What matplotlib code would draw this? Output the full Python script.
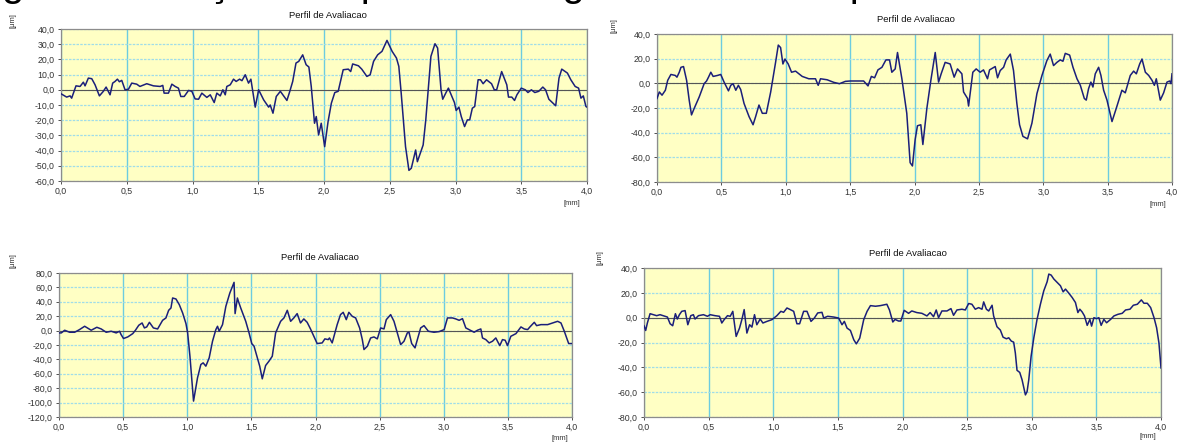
import matplotlib
matplotlib.use("Agg")
import matplotlib.pyplot as plt
from matplotlib.ticker import FuncFormatter, MultipleLocator

plt.rcParams['font.family'] = ['Liberation Sans', 'DejaVu Sans']

# ------------------------------------------------------------
# data
# ------------------------------------------------------------
x1 = [0.0, 0.043, 0.069, 0.081, 0.114, 0.145, 0.17, 0.183, 0.208, 0.234, 0.259, 0.292, 0.322, 0.343,
      0.373, 0.393, 0.411, 0.429, 0.444, 0.462, 0.487, 0.513, 0.538, 0.576, 0.60, 0.652, 0.703, 0.754,
      0.774, 0.784, 0.817, 0.843, 0.868, 0.893, 0.911, 0.937, 0.97, 0.995, 1.02, 1.046, 1.071, 1.109,
      1.135, 1.165, 1.185, 1.211, 1.231, 1.249, 1.261, 1.287, 1.312, 1.332, 1.358, 1.376, 1.401, 1.426,
      1.444, 1.477, 1.503, 1.541, 1.579, 1.591, 1.612, 1.637, 1.668, 1.718, 1.74, 1.762, 1.787, 1.808,
      1.838, 1.864, 1.885, 1.903, 1.928, 1.941, 1.959, 1.979, 2.005, 2.031, 2.056, 2.082, 2.108, 2.146,
      2.185, 2.203, 2.218, 2.262, 2.287, 2.326, 2.351, 2.377, 2.408, 2.441, 2.479, 2.518, 2.551, 2.569,
      2.587, 2.62, 2.646, 2.664, 2.697, 2.71, 2.754, 2.774, 2.813, 2.844, 2.864, 2.89, 2.903, 2.928,
      2.946, 2.967, 2.992, 3.005, 3.026, 3.044, 3.069, 3.09, 3.108, 3.128, 3.146, 3.172, 3.19, 3.21,
      3.236, 3.274, 3.295, 3.313, 3.351, 3.39, 3.403, 3.428, 3.449, 3.467, 3.5, 3.531, 3.551, 3.577,
      3.603, 3.633, 3.664, 3.685, 3.71, 3.762, 3.787, 3.808, 3.851, 3.877, 3.91, 3.936, 3.954, 3.972,
      3.992, 4.0]
y1 = [-2.6, -4.8, -4.0, -5.5, 2.6, 2.2, 5.0, 2.6, 7.7, 7.3, 3.3, -4.0, -1.0, 1.8,
      -3.3, 4.4, 5.5, 7.0, 5.3, 6.2, 0.0, 0.4, 4.4, 3.7, 2.2, 4.0, 2.6, 2.2,
      2.9, -2.2, -2.2, 3.7, 2.2, 1.1, -4.4, -4.4, -0.4, -1.0, -6.0, -6.2, -2.2, -5.0,
      -3.3, -8.4, -2.2, -4.0, 0.0, -3.3, 2.2, 3.3, 7.0, 5.5, 7.0, 6.0, 9.9, 4.4,
      7.0, -11.4, 0.0, -6.6, -11.4, -10.0, -15.4, -4.4, -1.0, -7.0, -1.0, 5.5, 17.6, 18.7,
      23.0, 16.5, 15.0, 2.2, -22.0, -17.6, -29.7, -22.0, -37.4, -20.9, -8.8, -1.8, -1.0, 13.2,
      13.6, 12.0, 17.0, 15.8, 13.6, 8.8, 9.9, 18.7, 23.0, 25.3, 32.5, 25.3, 20.9, 15.4,
      -2.2, -37.4, -53.0, -51.6, -39.6, -47.3, -36.3, -19.8, 22.0, 30.3, 27.5, 0.0, -6.2, -1.8,
      1.1, -3.3, -8.4, -13.6, -11.4, -17.6, -24.2, -19.8, -19.8, -12.1, -11.0, 6.6, 6.6, 4.0,
      6.6, 4.0, 0.0, 0.0, 12.0, 3.3, -4.8, -4.8, -7.0, -3.3, 1.1, 0.0, -1.8, 0.0,
      -1.8, -1.0, 1.8, 0.0, -6.2, -10.5, 7.7, 13.6, 11.0, 6.6, 2.2, 1.1, -5.5, -4.0,
      -11.0, -11.4]

x2 = [0.0, 0.018, 0.039, 0.065, 0.083, 0.108, 0.142, 0.155, 0.173, 0.186, 0.206, 0.23, 0.25, 0.268,
      0.289, 0.328, 0.366, 0.385, 0.40, 0.418, 0.436, 0.47, 0.495, 0.521, 0.555, 0.573, 0.591, 0.612,
      0.632, 0.65, 0.676, 0.715, 0.746, 0.766, 0.792, 0.818, 0.849, 0.883, 0.921, 0.942, 0.96, 0.978,
      0.994, 1.019, 1.045, 1.076, 1.128, 1.179, 1.231, 1.252, 1.27, 1.321, 1.373, 1.417, 1.463, 1.502,
      1.553, 1.605, 1.639, 1.665, 1.69, 1.716, 1.747, 1.778, 1.806, 1.824, 1.85, 1.868, 1.902, 1.94,
      1.966, 1.984, 2.005, 2.023, 2.049, 2.065, 2.096, 2.127, 2.161, 2.187, 2.207, 2.238, 2.277, 2.308,
      2.334, 2.368, 2.381, 2.412, 2.42, 2.453, 2.479, 2.51, 2.536, 2.567, 2.583, 2.627, 2.645, 2.666,
      2.692, 2.712, 2.744, 2.769, 2.795, 2.816, 2.842, 2.878, 2.912, 2.951, 2.99, 3.028, 3.054, 3.08,
      3.106, 3.132, 3.153, 3.171, 3.205, 3.231, 3.262, 3.288, 3.319, 3.334, 3.352, 3.37, 3.386, 3.404,
      3.43, 3.448, 3.469, 3.495, 3.534, 3.567, 3.611, 3.637, 3.676, 3.702, 3.723, 3.749, 3.767, 3.793,
      3.819, 3.845, 3.863, 3.878, 3.909, 3.935, 3.961, 3.982, 3.992, 4.0]
y2 = [-12.3, -7.0, -9.6, -5.6, 2.4, 7.2, 6.4, 5.0, 9.0, 13.0, 13.6, 2.4, -13.6, -25.6,
      -20.3, -11.0, -0.3, 1.9, 5.0, 9.0, 5.6, 6.4, 7.2, 1.0, -6.1, -1.6, -0.3, -5.6,
      -1.6, -5.0, -16.3, -27.0, -33.6, -27.0, -17.6, -24.3, -24.3, -7.0, 17.0, 31.0, 29.0, 15.7,
      19.7, 15.7, 9.0, 9.9, 5.6, 3.7, 3.7, -1.6, 3.7, 2.9, 0.8, -0.3, 1.6, 1.9,
      1.9, 1.9, -2.1, 5.6, 4.5, 10.9, 13.0, 19.0, 19.0, 9.0, 11.7, 25.0, 3.7, -24.3,
      -64.3, -67.0, -45.6, -34.4, -33.6, -49.6, -20.3, 2.4, 25.0, 1.0, 7.7, 17.0, 15.7, 5.0,
      11.7, 7.7, -7.0, -12.3, -18.4, 9.0, 11.7, 9.0, 10.9, 3.7, 10.9, 13.6, 4.5, 10.4,
      13.0, 19.0, 23.7, 10.4, -16.3, -33.6, -43.0, -45.0, -32.3, -8.3, 6.4, 18.4, 23.7, 14.4,
      17.0, 19.0, 17.9, 24.3, 22.9, 13.0, 3.7, -1.6, -12.3, -13.6, -4.3, 1.0, -3.0, 7.7,
      13.0, 6.4, -5.6, -13.6, -31.0, -20.3, -5.6, -7.7, 6.4, 9.9, 7.7, 15.7, 19.7, 9.0,
      6.4, 2.4, -1.6, 3.7, -13.6, -7.7, 1.0, 1.9, -0.3, 7.7]

x3 = [0.0, 0.018, 0.044, 0.083, 0.122, 0.16, 0.20, 0.251, 0.295, 0.329, 0.368, 0.407, 0.446, 0.472,
      0.484, 0.503, 0.536, 0.575, 0.596, 0.622, 0.648, 0.666, 0.684, 0.705, 0.736, 0.769, 0.808, 0.834,
      0.855, 0.873, 0.886, 0.912, 0.938, 0.964, 0.99, 1.003, 1.021, 1.049, 1.08, 1.106, 1.124, 1.145,
      1.171, 1.197, 1.223, 1.236, 1.249, 1.275, 1.301, 1.332, 1.365, 1.373, 1.391, 1.399, 1.417, 1.456,
      1.482, 1.503, 1.521, 1.547, 1.565, 1.585, 1.611, 1.637, 1.663, 1.689, 1.728, 1.754, 1.78, 1.806,
      1.831, 1.857, 1.883, 1.909, 1.935, 1.961, 1.987, 2.013, 2.052, 2.073, 2.099, 2.109, 2.13, 2.169,
      2.195, 2.216, 2.24, 2.26, 2.286, 2.313, 2.344, 2.365, 2.378, 2.404, 2.43, 2.456, 2.482, 2.508,
      2.534, 2.552, 2.586, 2.612, 2.638, 2.664, 2.69, 2.716, 2.729, 2.75, 2.776, 2.794, 2.82, 2.846,
      2.88, 2.924, 2.964, 3.003, 3.029, 3.068, 3.094, 3.12, 3.146, 3.172, 3.211, 3.237, 3.263, 3.289,
      3.302, 3.328, 3.354, 3.38, 3.406, 3.419, 3.437, 3.458, 3.479, 3.497, 3.523, 3.563, 3.602, 3.628,
      3.654, 3.672, 3.706, 3.724, 3.758, 3.81, 3.849, 3.888, 3.914, 3.94, 3.974, 4.0]
y3 = [-3.2, -3.2, 0.5, -2.3, -2.3, 1.4, 6.0, 0.5, 4.6, 2.3, -2.3, -0.9, -3.2, -0.9,
      -5.5, -11.0, -8.8, -4.2, 0.5, 7.4, 10.6, 3.7, 5.1, 11.5, 3.7, 2.3, 14.3, 17.6,
      28.2, 31.4, 45.3, 43.9, 36.0, 24.5, 9.7, -3.2, -35.6, -97.9, -65.6, -47.1, -44.8, -49.4,
      -37.9, -14.8, 1.4, 6.0, -0.9, 8.3, 33.7, 52.2, 67.0, 23.6, 45.3, 40.6, 31.4, 12.9,
      -3.2, -18.0, -21.7, -37.9, -49.4, -67.0, -48.5, -42.5, -35.6, -3.2, 12.9, 17.6, 28.2, 12.9,
      17.6, 23.6, 10.6, 16.2, 11.5, 2.3, -7.9, -18.0, -17.1, -11.5, -12.5, -10.2, -17.1, 8.3,
      22.2, 25.4, 15.2, 25.4, 19.9, 17.6, 3.7, -12.5, -26.3, -21.7, -10.2, -8.8, -11.5, 3.7,
      2.3, 15.2, 22.2, 12.9, -3.2, -19.4, -14.8, -3.2, -2.3, -18.0, -24.0, -12.5, 3.7, 6.9,
      -0.9, -2.3, -1.4, 1.4, 17.6, 17.6, 16.2, 14.3, 16.6, 3.7, 0.0, -2.3, 0.5, 2.3,
      -10.2, -12.5, -17.1, -14.8, -10.2, -14.8, -20.8, -12.5, -13.4, -20.8, -7.9, -4.2, 5.1, 2.3,
      1.4, 5.1, 11.5, 6.9, 8.3, 8.3, 10.6, 12.9, 10.6, -0.9, -18.0, -18.0]

x4 = [0.0, 0.013, 0.026, 0.047, 0.072, 0.098, 0.124, 0.163, 0.181, 0.202, 0.222, 0.233, 0.243, 0.258,
      0.274, 0.292, 0.318, 0.339, 0.362, 0.382, 0.395, 0.421, 0.46, 0.491, 0.512, 0.55, 0.584, 0.602,
      0.62, 0.646, 0.667, 0.687, 0.713, 0.739, 0.757, 0.775, 0.796, 0.817, 0.835, 0.855, 0.873, 0.899,
      0.92, 0.951, 0.99, 1.028, 1.059, 1.08, 1.106, 1.132, 1.158, 1.183, 1.204, 1.235, 1.261, 1.292,
      1.318, 1.344, 1.377, 1.39, 1.421, 1.468, 1.506, 1.532, 1.55, 1.571, 1.597, 1.623, 1.643, 1.669,
      1.70, 1.726, 1.752, 1.791, 1.829, 1.879, 1.899, 1.925, 1.943, 1.969, 1.987, 2.013, 2.047, 2.072,
      2.111, 2.15, 2.189, 2.214, 2.24, 2.261, 2.279, 2.305, 2.344, 2.375, 2.395, 2.421, 2.46, 2.486,
      2.512, 2.537, 2.563, 2.589, 2.615, 2.628, 2.649, 2.667, 2.693, 2.705, 2.731, 2.757, 2.778, 2.804,
      2.822, 2.842, 2.86, 2.873, 2.886, 2.907, 2.925, 2.951, 2.964, 2.977, 2.995, 3.016, 3.041, 3.067,
      3.093, 3.119, 3.132, 3.15, 3.171, 3.196, 3.222, 3.243, 3.261, 3.287, 3.313, 3.338, 3.357, 3.372,
      3.39, 3.408, 3.429, 3.45, 3.463, 3.481, 3.501, 3.519, 3.537, 3.558, 3.579, 3.61, 3.636, 3.667,
      3.70, 3.726, 3.76, 3.786, 3.817, 3.848, 3.868, 3.894, 3.92, 3.946, 3.966, 3.984, 4.0]
y4 = [-6.5, -10.3, -4.3, 3.2, 2.4, 1.6, 2.4, 1.1, 0.5, -4.9, -6.5, -1.6, 3.2, -1.1,
      2.4, 5.1, 5.7, -5.7, 1.6, 2.4, -1.1, 1.6, 2.4, 1.1, 2.4, 1.6, 1.1, -4.3,
      -1.6, 1.6, 1.1, 5.1, -15.1, -8.4, -1.6, 6.5, -12.4, -5.7, -7.6, 2.4, -5.7, -1.1,
      -4.3, -3.0, -1.6, 1.6, 5.1, 4.3, 7.8, 6.5, 5.1, -4.9, -4.9, 5.1, 5.1, -3.0,
      -0.3, 3.8, 4.3, -0.3, 1.1, 0.5, -0.3, -5.7, -3.0, -8.4, -10.3, -17.8, -21.1, -16.5,
      -1.6, 5.1, 9.7, 9.2, 9.7, 10.8, 6.2, -3.5, -1.4, -2.7, -2.7, 5.9, 3.5, 5.4,
      4.1, 3.5, 1.4, 4.1, 0.8, 6.2, 0.0, 5.4, 5.4, 7.3, 1.9, 6.2, 6.8, 6.2,
      11.4, 10.8, 6.8, 8.1, 6.8, 12.7, 6.8, 5.4, 10.0, 1.4, -7.3, -10.0, -15.7, -17.0,
      -16.2, -18.9, -19.7, -28.4, -42.4, -44.1, -50.0, -62.2, -59.5, -50.0, -31.1, -16.2, -1.4, 10.8,
      21.6, 28.9, 35.1, 34.3, 31.1, 28.4, 25.7, 20.8, 23.0, 19.7, 16.2, 12.2, 4.1, 6.8,
      4.6, 1.4, -6.2, -1.4, -6.8, 0.0, -0.8, 0.0, -6.2, -1.4, -4.1, -1.4, 1.4, 2.7,
      3.5, 6.2, 6.8, 10.0, 10.8, 14.3, 11.6, 11.6, 8.1, 0.0, -8.1, -20.3, -40.5]

y_limits = [(-60, 40), (-80, 40), (-120, 80), (-80, 40)]
y_steps = [10, 20, 20, 20]
panel_title = "Perfil de Avaliacao"
y_unit = "[\u03bcm]"
x_unit = "[mm]"
header = "gens ilustrações de perfis de rugosidade do corpo"

# ------------------------------------------------------------
# layout helpers (pixel boxes of the 1178x445 picture)
# ------------------------------------------------------------
W, H = 1178, 445
BG = "#FFFFC4"
GRID_V = "#6CCCE0"
GRID_H = "#A0DDE8"
LINE = "#1B1F7A"


def px_rect(l, t, r, b):
    return [l / W, 1 - b / H, (r - l) / W, (b - t) / H]


def comma_fmt(v, _pos):
    return f"{v:.1f}".replace(".", ",")


def draw_panel(fig, rect, x, y, ylim, ystep):
    ax = fig.add_axes(px_rect(*rect))
    ax.set_facecolor(BG)
    ax.plot(x, y, color=LINE, lw=1.1, zorder=3)
    ax.axhline(0, color="#555555", lw=0.8, zorder=2)

    ax.set_xlim(0, 4)
    ax.set_ylim(*ylim)
    ax.xaxis.set_major_locator(MultipleLocator(0.5))
    ax.yaxis.set_major_locator(MultipleLocator(ystep))
    ax.xaxis.set_major_formatter(FuncFormatter(comma_fmt))
    ax.yaxis.set_major_formatter(FuncFormatter(comma_fmt))

    # vertical grid drawn solid, horizontal grid lighter and dotted
    ax.grid(axis="x", color=GRID_V, lw=1.0, zorder=1, snap=True)
    ax.grid(axis="y", color=GRID_H, lw=0.9, ls=(0, (2, 1)), zorder=1, snap=True)

    for s in ax.spines.values():
        s.set_color("#8C8C8C")
        s.set_linewidth(0.9)
    ax.tick_params(labelsize=6.3, colors="#333333", length=2, width=0.6,
                   pad=2.5)
    return ax


fig = plt.figure(figsize=(W / 100, H / 100), dpi=100)

panels = [
    # axes box, title pos, y-unit pos, x-unit pos
    ((61, 29, 587, 181), (328, 16), (13, 21), (572, 204)),
    ((657, 34, 1172, 182), (916, 20), (614, 26), (1158, 205)),
    ((59, 273, 572, 417), (320, 258), (13, 261), (560, 438)),
    ((644, 268, 1161, 417), (908, 254), (600, 258), (1148, 437)),
]
xs = [x1, x2, x3, x4]
ys = [y1, y2, y3, y4]

for (rect, tpos, upos, mpos), x, y, ylim, ystep in zip(panels, xs, ys, y_limits, y_steps):
    draw_panel(fig, rect, x, y, ylim, ystep)
    fig.text(tpos[0] / W, 1 - tpos[1] / H, panel_title, fontsize=6.8,
             ha="center", va="center", color="#111111")
    fig.text(upos[0] / W, 1 - upos[1] / H, y_unit, fontsize=5.5, rotation=90,
             ha="center", va="center", color="#333333")
    fig.text(mpos[0] / W, 1 - mpos[1] / H, x_unit, fontsize=5.5,
             ha="center", va="center", color="#333333")

# cropped header text of the page, only its lower part is visible
fig.text(2 / W, 1 + 4 / H, header, fontsize=29, ha="left", va="baseline",
         color="black")

fig.savefig("out.png", dpi=100)
